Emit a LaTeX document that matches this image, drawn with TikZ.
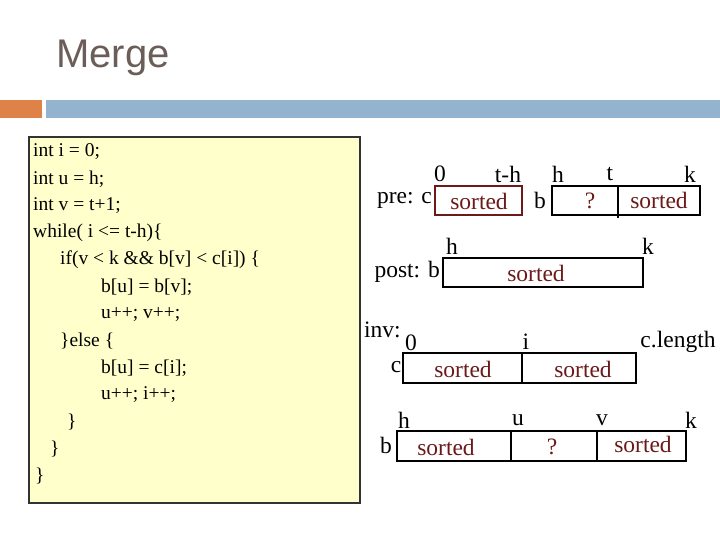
\documentclass[tikz,border=0pt]{standalone}
\usepackage{fontspec}
\setmainfont{Liberation Serif}
\newfontfamily\titlefont{Liberation Sans}
\definecolor{titlec}{HTML}{6B5E58}
\definecolor{barO}{HTML}{DF8248}
\definecolor{barB}{HTML}{93B3CE}
\definecolor{codebg}{HTML}{FFFFCC}
\definecolor{srt}{HTML}{6B1A1A}
\definecolor{redb}{HTML}{6B1A1A}
\begin{document}
\begin{tikzpicture}[x=1pt,y=-1pt,
  code/.style={anchor=west,inner sep=0pt,font=\fontsize{19.5}{21}\selectfont},
  lab/.style={inner sep=0pt,font=\fontsize{23.5}{25}\selectfont},
  srtl/.style={lab,text=srt},
  arr/.style={draw=black,line width=1.5pt}]
\useasboundingbox (0,0) rectangle (720,540);
\node[anchor=west,inner sep=0pt,text=titlec,font=\titlefont\fontsize{40}{44}\selectfont] (title) at (56,58) {Merge};
\fill[barO] (0,100) rectangle (42,118);
\fill[barB] (46,100) rectangle (720,118);
\draw[fill=codebg,line width=1.2pt,draw=black!80] (29,137) rectangle (360,503);
\node[code] (c1) at (33,152) {int i = 0;};
\node[code] (c2) at (33,179) {int u = h;};
\node[code] (c3) at (33,206) {int v = t+1;};
\node[code] (c4) at (33,233) {while( i <= t-h)\{};
\node[code] (c5) at (60,260) {if(v < k \&\& b[v] < c[i]) \{};
\node[code] (c6) at (101,287) {b[u] = b[v];};
\node[code] (c7) at (101,314) {u++; v++;};
\node[code] (c8) at (60,341) {\}else \{};
\node[code] (c9) at (101,368) {b[u] = c[i];};
\node[code] (c10) at (101,395) {u++; i++;};
\node[code] (c11) at (67,422) {\}};
\node[code] (c12) at (50,449) {\}};
\node[code] (c13) at (35,476) {\}};
% pre
\draw[line width=1.5pt,draw=redb] (435,186) rectangle (522,215);
\draw[arr] (552,186) rectangle (700,215);
\draw[arr] (618,186) -- (618,218);
\node[lab] at (440,174) {0};
\node[lab] at (508,174) {t-h};
\node[lab] at (558,174) {h};
\node[lab] at (610,174) {t};
\node[lab] at (690,174) {k};
\node[lab,anchor=east] at (432,200) {pre: c};
\node[lab] at (540,200) {b};
\node[srtl] at (590,201) {?};
\node[srtl] at (479,201) {sorted};
\node[srtl] at (659,200) {sorted};
% post
\draw[arr] (443,258) rectangle (643,287);
\node[lab] at (452,246) {h};
\node[lab] at (648,246) {k};
\node[lab,anchor=east] at (440,272) {post: b};
\node[srtl] at (536,273) {sorted};
% inv c
\draw[arr] (403,353) rectangle (636,383);
\draw[arr] (522,353) -- (522,383);
\node[lab,anchor=west] at (364,330) {inv:};
\node[lab] at (411,343) {0};
\node[lab] at (526,342) {i};
\node[lab] at (678,342) {c.length};
\node[lab] at (396,367) {c};
\node[srtl] at (463,369) {sorted};
\node[srtl] at (583,369) {sorted};
% inv b
\draw[arr] (397,431) rectangle (686,461);
\draw[arr] (511,431) -- (511,461);
\draw[arr] (597,431) -- (597,461);
\node[lab] at (404,420) {h};
\node[lab] at (518,420) {u};
\node[lab] at (602,420) {v};
\node[lab] at (691,420) {k};
\node[lab] at (386,445) {b};
\node[srtl] at (446,447) {sorted};
\node[srtl] at (552,447) {?};
\node[srtl] at (643,444) {sorted};
\end{tikzpicture}
\end{document}
